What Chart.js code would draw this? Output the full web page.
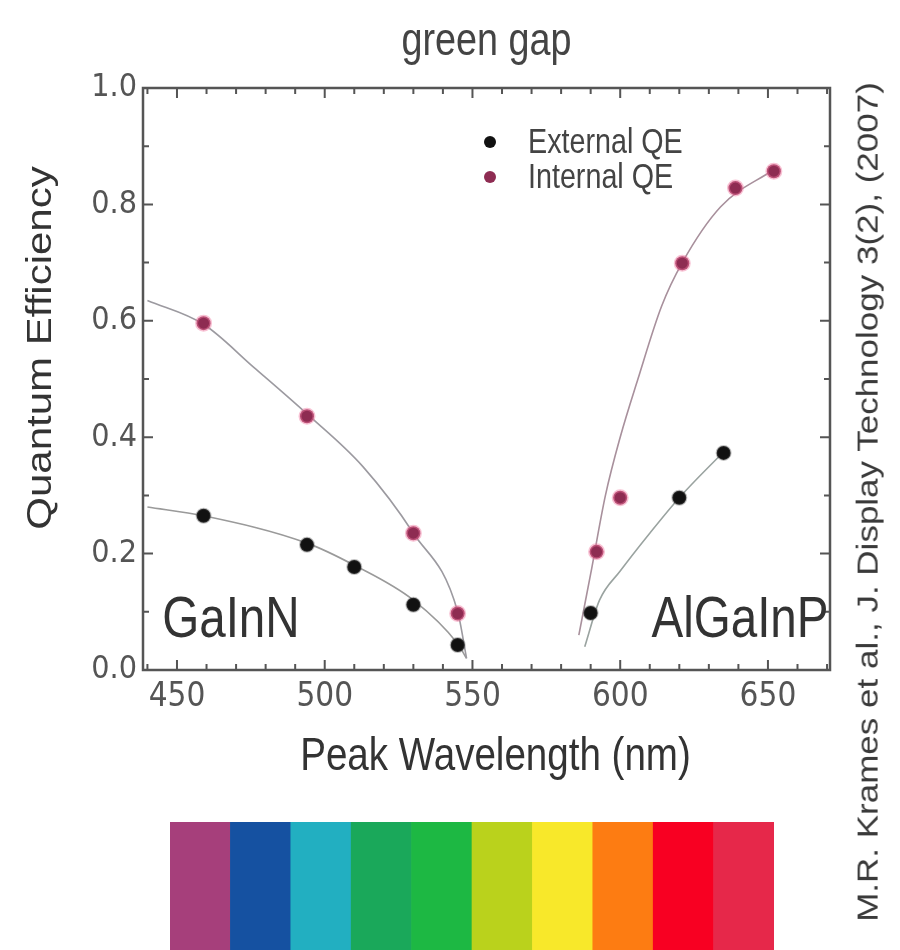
<!DOCTYPE html>
<html lang="en">
<head>
    <meta charset="UTF-8">
    <title>Green gap - Quantum Efficiency</title>
    <script src="https://cdn.jsdelivr.net/npm/chart.js"></script>
    <style>
        body { margin: 0; background: #fff; }
        #wrap { position: relative; width: 900px; height: 950px; overflow: hidden; }
        #qe { position: absolute; left: 0; top: 0; }
        #cite {
            position: absolute; left: 418px; top: 482px; width: 900px; height: 40px;
            line-height: 40px; text-align: center; white-space: nowrap;
            font: 35px "Liberation Sans", Arial, sans-serif; color: #3a3a3a;
            transform: rotate(-90deg) scaleY(0.82);
        }
        #bar { position: absolute; left: 170px; top: 822px; width: 604px; height: 128px; }
    </style>
</head>
<body>
<div id="wrap">
    <canvas id="qe" width="900" height="800"></canvas>
    <div id="cite">M.R. Krames et al., J. Display Technology 3(2), (2007)</div>
    <div id="bar"><canvas id="spectrum" width="604" height="128"></canvas></div>
</div>

<script>
    const extGaInN_x = [459, 494, 510, 530, 545];
    const extGaInN_y = [0.265, 0.215, 0.177, 0.112, 0.043];
    const extAlGaInP_x = [590, 620, 635];
    const extAlGaInP_y = [0.098, 0.296, 0.373];

    const intGaInN_x = [459, 494, 530, 545];
    const intGaInN_y = [0.596, 0.436, 0.235, 0.097];
    const intAlGaInP_x = [592, 600, 621, 639, 652];
    const intAlGaInP_y = [0.203, 0.296, 0.699, 0.828, 0.857];

    // guide curves
    const fitIntGaInN_x = [440, 459, 476, 494, 513, 530, 545, 548];
    const fitIntGaInN_y = [0.635, 0.594, 0.52, 0.44, 0.349, 0.235, 0.10, 0.02];
    const fitExtGaInN_x = [440, 459, 494, 510, 530, 545, 548];
    const fitExtGaInN_y = [0.28, 0.265, 0.218, 0.18, 0.12, 0.045, 0.02];
    const fitIntAlGaInP_x = [586, 590, 595, 600, 606, 614, 621, 634, 652];
    const fitIntAlGaInP_y = [0.06, 0.165, 0.30, 0.40, 0.50, 0.625, 0.70, 0.796, 0.86];
    const fitExtAlGaInP_x = [588, 593, 600, 610, 620, 635];
    const fitExtAlGaInP_y = [0.04, 0.12, 0.17, 0.235, 0.296, 0.375];

    // axes
    const xTickValues = [440, 450, 460, 470, 480, 490, 500, 510, 520, 530, 540, 550,
                         560, 570, 580, 590, 600, 610, 620, 630, 640, 650, 660, 670];
    const xLabelStep = 50;
    const yLabelStep = 0.2;

    // texts
    const chartTitle = 'green gap';
    const xTitle = 'Peak Wavelength (nm)';
    const yTitle = 'Quantum Efficiency';
    const regionNames = ['GaInN', 'AlGaInP'];
    const regionX = [445, 670.5];
    const regionY = [0.057, 0.057];
    const legendNames = ['External QE', 'Internal QE'];

    // spectrum strip
    const spectrumNames = ['violet', 'blue', 'cyan', 'blue-green', 'green', 'yellow-green', 'yellow', 'orange', 'red', 'deep red'];
    const spectrumValues = [1, 1, 1, 1, 1, 1, 1, 1, 1, 1];
    const spectrumColors = ['#a63f7b', '#1551a1', '#22afc1', '#1aa85a', '#1db843', '#bad21c', '#f8e82a', '#fd7c12', '#f80022', '#e6284a'];

    const CONDENSED = '"DejaVu Sans Condensed", "Liberation Sans", sans-serif';
    const SANS = '"Liberation Sans", Arial, sans-serif';
    const SQUEEZE = 0.82;   // the original figure is squeezed horizontally
    const EXT_COLOR = '#111111';
    const INT_COLOR = '#8e2c52';

    function pts(xs, ys) {
        return xs.map((v, i) => ({ x: v, y: ys[i] }));
    }

    function fitLine(xs, ys, color) {
        return {
            data: pts(xs, ys),
            showLine: true,
            borderColor: color,
            borderWidth: 1.6,
            pointRadius: 0,
            cubicInterpolationMode: 'monotone',
            fill: false
        };
    }

    // horizontal text, squeezed like the source image
    function narrowText(ctx, text, x, y, size, align, baseline, color) {
        ctx.save();
        ctx.font = size + 'px ' + SANS;
        ctx.fillStyle = color;
        ctx.textAlign = align;
        ctx.textBaseline = baseline;
        ctx.translate(x, y);
        ctx.scale(SQUEEZE, 1);
        ctx.fillText(text, 0, 0);
        ctx.restore();
    }

    const overlay = {
        id: 'overlay',
        afterDatasetsDraw(chart) {
            const { ctx, chartArea: a, scales: { x, y } } = chart;
            ctx.save();
            ctx.strokeStyle = '#555';
            ctx.lineWidth = 2;

            // inward tick marks on all four sides
            ctx.beginPath();
            x.ticks.forEach(t => {
                const px = x.getPixelForValue(t.value);
                const len = t.value % xLabelStep === 0 ? 10 : 6;
                ctx.moveTo(px, a.bottom); ctx.lineTo(px, a.bottom - len);
                ctx.moveTo(px, a.top); ctx.lineTo(px, a.top + len);
            });
            y.ticks.forEach(t => {
                const py = y.getPixelForValue(t.value);
                const r = t.value / yLabelStep;
                const len = Math.abs(r - Math.round(r)) < 1e-6 ? 10 : 6;
                ctx.moveTo(a.left, py); ctx.lineTo(a.left + len, py);
                ctx.moveTo(a.right, py); ctx.lineTo(a.right - len, py);
            });
            ctx.stroke();

            // frame
            ctx.lineWidth = 2.5;
            ctx.strokeRect(a.left, a.top, a.right - a.left, a.bottom - a.top);
            ctx.restore();

            // titles
            narrowText(ctx, chartTitle, (a.left + a.right) / 2, 42, 46, 'center', 'middle', '#444');
            narrowText(ctx, xTitle, (a.left + a.right) / 2 + 9, 757, 47, 'center', 'middle', '#333');

            ctx.save();
            ctx.font = '42px ' + SANS;
            ctx.fillStyle = '#333';
            ctx.textAlign = 'center';
            ctx.textBaseline = 'middle';
            ctx.translate(42, 348);
            ctx.rotate(-Math.PI / 2);
            ctx.scale(1, SQUEEZE);
            ctx.fillText(yTitle, 0, 0);
            ctx.restore();

            // material labels
            regionNames.forEach((name, i) => {
                narrowText(ctx, name, x.getPixelForValue(regionX[i]), y.getPixelForValue(regionY[i]),
                    58, i === 0 ? 'left' : 'right', 'alphabetic', '#333');
            });

            // legend
            const lx = a.left + 347, ly = a.top + 54;
            [EXT_COLOR, INT_COLOR].forEach((c, i) => {
                ctx.save();
                ctx.fillStyle = c;
                ctx.beginPath();
                ctx.arc(lx, ly + i * 35, 6, 0, Math.PI * 2);
                ctx.fill();
                ctx.restore();
                narrowText(ctx, legendNames[i], lx + 38, ly + i * 35 + 1, 35, 'left', 'middle', '#444');
            });
        }
    };

    new Chart(document.getElementById('qe'), {
        type: 'scatter',
        data: {
            datasets: [
                {
                    label: legendNames[0],
                    data: pts(extGaInN_x, extGaInN_y).concat(pts(extAlGaInP_x, extAlGaInP_y)),
                    backgroundColor: EXT_COLOR,
                    borderColor: 'rgba(80,80,80,0.35)',
                    borderWidth: 2,
                    pointRadius: 7
                },
                {
                    label: legendNames[1],
                    data: pts(intGaInN_x, intGaInN_y).concat(pts(intAlGaInP_x, intAlGaInP_y)),
                    backgroundColor: INT_COLOR,
                    borderColor: 'rgba(240,120,160,0.45)',
                    borderWidth: 3,
                    pointRadius: 7
                },
                fitLine(fitIntGaInN_x, fitIntGaInN_y, '#9c9aa0'),
                fitLine(fitExtGaInN_x, fitExtGaInN_y, '#9a9a9a'),
                fitLine(fitIntAlGaInP_x, fitIntAlGaInP_y, '#a8909c'),
                fitLine(fitExtAlGaInP_x, fitExtAlGaInP_y, '#9aa3a0')
            ]
        },
        options: {
            responsive: false,
            animation: false,
            layout: { padding: { left: 0, right: 70, top: 88, bottom: 0 } },
            plugins: {
                legend: { display: false },
                tooltip: { enabled: false },
                title: { display: false }
            },
            scales: {
                x: {
                    type: 'linear',
                    min: 438.5,
                    max: 671,
                    afterBuildTicks: s => { s.ticks = xTickValues.map(v => ({ value: v })); },
                    afterFit: s => { s.height = 130; },
                    grid: { display: false, drawTicks: false },
                    border: { display: false },
                    ticks: {
                        color: '#555',
                        padding: 8,
                        maxRotation: 0,
                        autoSkip: false,
                        font: { family: CONDENSED, size: 33 },
                        callback: v => (v % xLabelStep === 0 ? v : '')
                    }
                },
                y: {
                    type: 'linear',
                    min: 0,
                    max: 1,
                    afterFit: s => { s.width = 143; },
                    grid: { display: false, drawTicks: false },
                    border: { display: false },
                    ticks: {
                        stepSize: 0.1,
                        color: '#555',
                        padding: 6,
                        autoSkip: false,
                        font: { family: CONDENSED, size: 32 },
                        callback: v => {
                            const r = v / yLabelStep;
                            return Math.abs(r - Math.round(r)) < 1e-6 ? v.toFixed(1) : '';
                        }
                    }
                }
            }
        },
        plugins: [overlay]
    });

    new Chart(document.getElementById('spectrum'), {
        type: 'bar',
        data: {
            labels: spectrumNames,
            datasets: [{
                data: spectrumValues,
                backgroundColor: spectrumColors,
                borderWidth: 0,
                barPercentage: 1,
                categoryPercentage: 1
            }]
        },
        options: {
            responsive: false,
            animation: false,
            layout: { padding: 0 },
            plugins: { legend: { display: false }, tooltip: { enabled: false } },
            scales: {
                x: { display: false },
                y: { display: false, min: 0, max: 1 }
            }
        }
    });
</script>
</body>
</html>
